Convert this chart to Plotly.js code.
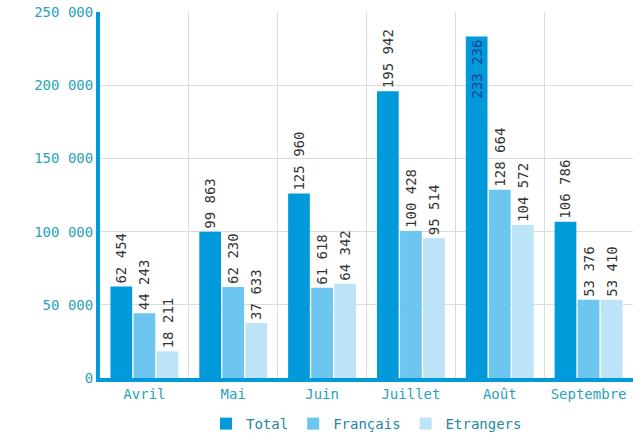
<!DOCTYPE html>
<html>
<head>
<meta charset="utf-8">
<script src="https://cdn.plot.ly/plotly-3.0.1.min.js"></script>
<style>html,body{margin:0;padding:0;background:#fff;}#chart{width:643px;height:440px;}</style>
</head>
<body>
<div id="chart"></div>
<script>
var months = ["Avril", "Mai", "Juin", "Juillet", "Août", "Septembre"];
var total = [62454, 99863, 125960, 195942, 233236, 106786];
var francais = [44243, 62230, 61618, 100428, 128664, 53376];
var etrangers = [18211, 37633, 64342, 95514, 104572, 53410];
var seriesNames = ["Total", "Français", "Etrangers"];
var yTicks = [0, 50000, 100000, 150000, 200000, 250000];

var colors = ["#0099da", "#6cc6ef", "#bde3f7"];
var numFont = "DejaVu Sans Mono, monospace";

function mk(name, vals, color) {
  var pos = vals.map(function(v){ return v > 220000 ? "inside" : "outside"; });
  var tcol = vals.map(function(v){ return v > 220000 ? "#1b3f8f" : "#333333"; });
  return {
    type: "bar", name: name, x: months, y: vals,
    marker: {color: color},
    texttemplate: "%{y:,}",
    textposition: pos,
    insidetextanchor: "end",
    textangle: -90,
    constraintext: "none",
    cliponaxis: false,
    textfont: {family: numFont, size: 14, color: tcol},
    insidetextfont: {family: numFont, size: 14, color: tcol},
    outsidetextfont: {family: numFont, size: 14, color: tcol},
    hoverinfo: "none"
  };
}

var data = [
  mk(seriesNames[0], total, colors[0]),
  mk(seriesNames[1], francais, colors[1]),
  mk(seriesNames[2], etrangers, colors[2])
];

var layout = {
  width: 643, height: 440,
  margin: {l: 100, r: 10, t: 12, b: 62, autoexpand: false},
  separators: ", ",
  paper_bgcolor: "#ffffff", plot_bgcolor: "#ffffff",
  barmode: "group", bargap: 0.22, bargroupgap: 0.06,
  showlegend: true,
  legend: {orientation: "h", x: 0.5, xanchor: "center", yref: "container", y: -0.012, yanchor: "bottom",
           font: {family: numFont, size: 14, color: "#2389a3"},
           traceorder: "normal"},
  xaxis: {
    type: "category", showgrid: true, gridcolor: "#dcdcdc", gridwidth: 1,
    tickson: "boundaries", ticks: "", showline: true, linecolor: "#0099da", linewidth: 4,
    tickfont: {family: numFont, size: 14, color: "#2aa3b8"}, fixedrange: true
  },
  yaxis: {
    range: [0, 250000], tickvals: yTicks, tickformat: ",d",
    showgrid: true, gridcolor: "#dcdcdc", gridwidth: 1, zeroline: false,
    ticks: "", showline: true, linecolor: "#0099da", linewidth: 4,
    tickfont: {family: numFont, size: 14, color: "#2aa3b8"}, fixedrange: true
  }
};

Plotly.newPlot("chart", data, layout, {displayModeBar: false, staticPlot: true});
</script>
</body>
</html>
